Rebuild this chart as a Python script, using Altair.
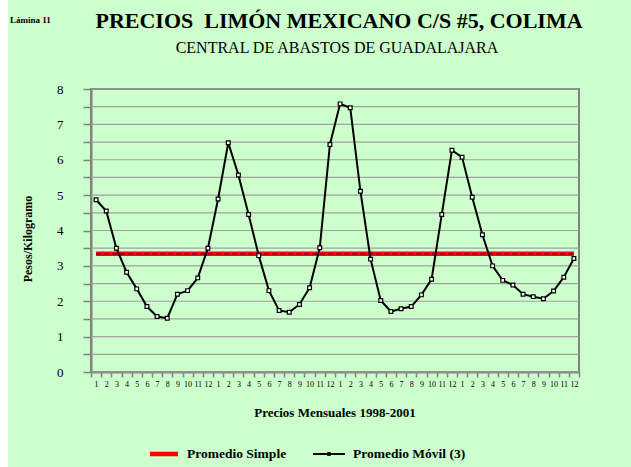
import altair as alt
import pandas as pd

# Monthly moving-average prices (pesos/kg), Jan 1998 - Dec 2001
anios = [1998, 1999, 2000, 2001]
meses = list(range(1, 13))
movil_1998 = [4.87, 4.55, 3.50, 2.82, 2.35, 1.85, 1.57, 1.52, 2.20, 2.30, 2.66, 3.50]
movil_1999 = [4.89, 6.48, 5.57, 4.45, 3.29, 2.30, 1.74, 1.69, 1.91, 2.38, 3.51, 6.43]
movil_2000 = [7.58, 7.47, 5.11, 3.19, 2.02, 1.71, 1.79, 1.85, 2.18, 2.62, 4.45, 6.27]
movil_2001 = [6.07, 4.94, 3.88, 3.00, 2.59, 2.46, 2.20, 2.13, 2.07, 2.29, 2.68, 3.21]
promedio_simple = 3.34
niveles_y = [i / 2 for i in range(17)]

serie = movil_1998 + movil_1999 + movil_2000 + movil_2001
df = pd.DataFrame({
    "t": list(range(len(serie))),
    "anio": [a for a in anios for _ in meses],
    "mes": meses * len(anios),
    "precio": serie,
})

FONT = "Liberation Serif"
GRIS = "#808080"
W, H = 488, 283

x_enc = alt.X(
    "t:O",
    scale=alt.Scale(paddingInner=0, paddingOuter=0),
    axis=alt.Axis(
        title=None,
        labelExpr="isNaN((datum.value % 12) + 1) ? '' : (datum.value % 12) + 1",
        labelAngle=0,
        labelFont=FONT,
        labelFontSize=8,
        labelColor="black",
        labelPadding=3,
        labelOverlap=False,
        tickBand="extent",
        ticks=True,
        tickSize=5,
        tickColor=GRIS,
        tickWidth=1.5,
        domain=True,
        domainColor=GRIS,
        domainWidth=2,
        grid=False,
    ),
)

y_scale = alt.Scale(domain=[0, 8], nice=False)
y_axis = alt.Axis(
    title=None,
    values=niveles_y,
    labelExpr="datum.value % 1 == 0 ? datum.value : ''",
    labelFont=FONT,
    labelFontSize=13,
    labelColor="black",
    labelPadding=20,
    labelOverlap=False,
    ticks=True,
    tickSize=8,
    tickColor=GRIS,
    tickWidth=1.5,
    domain=True,
    domainColor=GRIS,
    domainWidth=2,
    grid=False,
)

# Horizontal gridlines every half peso
rejilla = alt.Chart(pd.DataFrame({"nivel": niveles_y})).mark_rule(
    color="#A0A0A0", strokeWidth=1.2
).encode(y=alt.Y("nivel:Q", scale=y_scale, axis=y_axis))

base = alt.Chart(df)

# Simple average: thick red band with a dashed navy line on top
y_prom = alt.Y(datum=promedio_simple, scale=y_scale, axis=y_axis)
rojo = base.mark_line(color="#FF0000", strokeWidth=4.5).encode(x=x_enc, y=y_prom)
azul = base.mark_line(color="#000080", strokeWidth=1, strokeDash=[5, 3]).encode(x=x_enc, y=y_prom)

linea = base.mark_line(
    color="black",
    strokeWidth=2,
    point=alt.OverlayMarkDef(shape="square", filled=True, fill="white", stroke="black",
                             strokeWidth=1.2, size=14),
).encode(x=x_enc, y=alt.Y("precio:Q", scale=y_scale, axis=y_axis))


def texto(txt, x, y, size, bold=False, align="center", angle=0):
    d = pd.DataFrame({"txt": [txt]})
    return alt.Chart(d).mark_text(
        font=FONT, fontSize=size, fontWeight="bold" if bold else "normal",
        align=align, baseline="middle", angle=angle, color="black",
    ).encode(text="txt:N", x=alt.value(x), y=alt.value(y))


# Left white margin strip
margen = alt.Chart(pd.DataFrame({"a": [0]})).mark_rect(color="white").encode(
    x=alt.value(-91), x2=alt.value(-83), y=alt.value(-89), y2=alt.value(378)
)

titulo = texto("PRECIOS\u00a0 LIMÓN MEXICANO C/S #5, COLIMA", 248, -68, 22, bold=True)
subtitulo = texto("CENTRAL DE ABASTOS DE GUADALAJARA", 246, -41, 16)
lamina = texto("Lámina 11", -81, -69, 9, bold=True, align="left")
ytitulo = texto("Pesos/Kilogramo", -63, 150, 12, bold=True, angle=270)
xtitulo = texto("Precios Mensuales 1998-2001", 244, 324, 13, bold=True)

# Legend
ley_df = pd.DataFrame({"a": [0]})
ley_rojo = alt.Chart(ley_df).mark_rule(color="#FF0000", strokeWidth=4.5).encode(
    x=alt.value(59), x2=alt.value(87), y=alt.value(365)
)
ley_negro = alt.Chart(ley_df).mark_rule(color="black", strokeWidth=2).encode(
    x=alt.value(222), x2=alt.value(254), y=alt.value(365)
)
ley_punto = alt.Chart(ley_df).mark_square(color="black", size=14, opacity=1).encode(
    x=alt.value(238), y=alt.value(365)
)
ley_t1 = texto("Promedio Simple", 96, 365, 13.5, bold=True, align="left")
ley_t2 = texto("Promedio Móvil (3)", 262, 365, 13.5, bold=True, align="left")

chart = alt.layer(
    margen, rejilla, rojo, azul, linea,
    titulo, subtitulo, lamina, ytitulo, xtitulo,
    ley_rojo, ley_negro, ley_punto, ley_t1, ley_t2,
).properties(
    width=W, height=H,
    autosize=alt.AutoSizeParams(type="none"),
    padding={"left": 91, "top": 89, "right": 52, "bottom": 95},
    background="#CCFFCC",
).configure_view(stroke=GRIS, strokeWidth=2)

chart.save("out.html", embed_options={"renderer": "svg", "actions": False})
